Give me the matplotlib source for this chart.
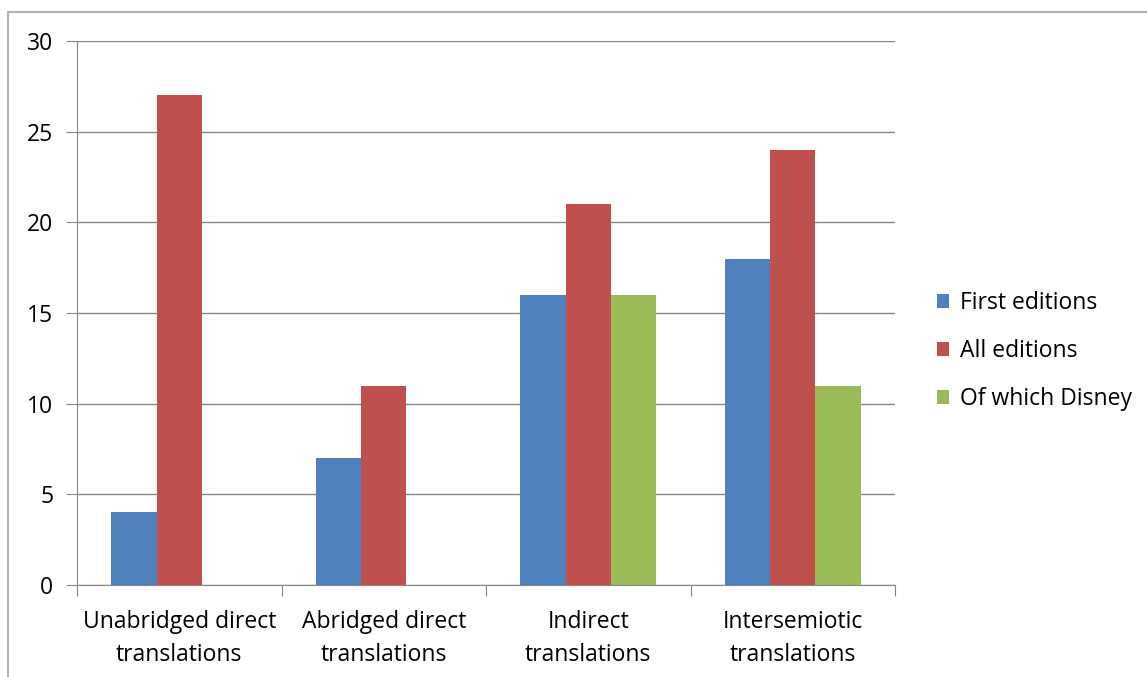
import numpy as np
import matplotlib.pyplot as plt
from matplotlib.patches import Rectangle

categories = ['Unabridged direct\ntranslations', 'Abridged direct\ntranslations',
              'Indirect\ntranslations', 'Intersemiotic\ntranslations']
first_editions = [4, 7, 16, 18]
all_editions = [27, 11, 21, 24]
of_which_disney = [0, 0, 16, 11]
series_names = ['First editions', 'All editions', 'Of which Disney']
colors = ['#4F81BD', '#C0504D', '#9BBB59']

plt.rcParams['font.family'] = ['Open Sans', 'DejaVu Sans']
fs = 16.5

fig = plt.figure(figsize=(11.47, 6.77), dpi=100)
# outer chart frame (Excel style)
fig.patches.append(Rectangle((8/1147, -0.1), 1.2, 1 - 12/677 + 0.1, transform=fig.transFigure,
                             fill=False, edgecolor='#B3B3B3', linewidth=1.5))

ax = fig.add_axes([77/1147, 1 - 585/677, (895 - 77)/1147, (585 - 41)/677])

x = np.arange(len(categories))
w = 0.222
for i, (vals, name) in enumerate(zip([first_editions, all_editions, of_which_disney], series_names)):
    ax.bar(x + (i - 1) * w, vals, width=w, color=colors[i], label=name, zorder=3)

ax.set_xlim(-0.5, 3.5)
ax.set_ylim(0, 30)
ax.set_yticks(range(0, 31, 5))
ax.yaxis.grid(True, color='#868686', linewidth=1, zorder=0)
for s in ['top', 'right']:
    ax.spines[s].set_visible(False)
ax.spines['left'].set_color('#868686')
ax.spines['bottom'].set_color('#868686')
ax.tick_params(axis='y', length=8, color='#868686', labelsize=fs, pad=9)

ax.set_xticks(np.arange(-0.5, 4, 1))
ax.set_xticklabels([])
ax.tick_params(axis='x', length=8, color='#868686')
ax.set_xticks(x, minor=True)
ax.set_xticklabels(categories, minor=True, fontsize=fs, linespacing=1.5)
ax.tick_params(axis='x', which='minor', length=0, pad=18)

ax.legend(loc='center left', bbox_to_anchor=(1.051, 0.430), frameon=False, fontsize=fs,
          handlelength=0.55, handleheight=0.55, handletextpad=0.45, labelspacing=1.05,
          borderpad=0, borderaxespad=0)

plt.savefig('out.png', dpi=100)
